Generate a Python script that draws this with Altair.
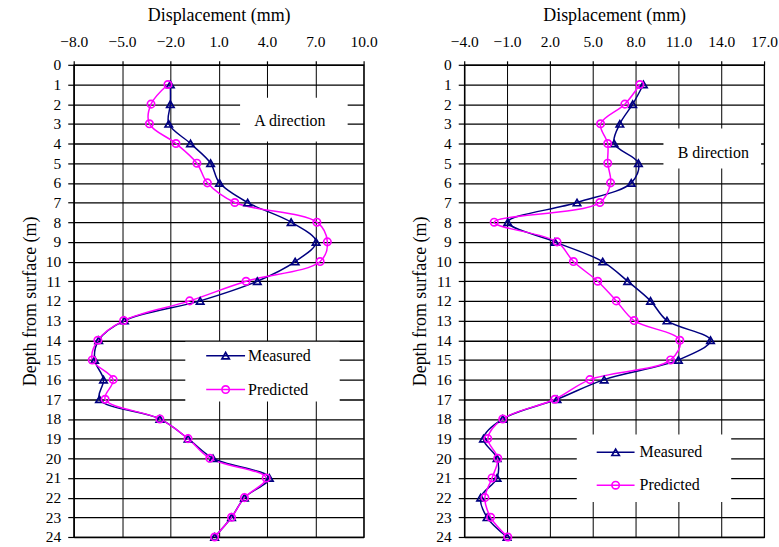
import altair as alt
import pandas as pd

# ---- data ----
depth = list(range(1, 25))
a_measured = [-2.0, -2.0, -2.1, -0.75, 0.5, 1.05, 2.8, 5.5, 7.05, 5.75, 3.4, -0.15,
              -4.85, -6.45, -6.7, -6.15, -6.4, -2.65, -0.9, 0.65, 4.15, 2.6, 1.8, 0.75]
a_predicted = [-2.15, -3.2, -3.3, -1.65, -0.35, 0.3, 2.0, 7.1, 7.75, 7.3, 2.7, -0.8,
               -4.9, -6.5, -6.85, -5.55, -6.05, -2.65, -0.9, 0.45, 3.95, 2.6, 1.8, 0.75]
b_measured = [8.55, 7.8, 6.9, 6.5, 8.2, 7.7, 3.9, -0.95, 2.35, 5.7, 7.45, 9.05,
              10.2, 13.25, 11.0, 5.8, 2.5, -1.3, -2.65, -1.7, -1.7, -2.85, -2.4, -1.0]
b_predicted = [8.3, 7.25, 5.55, 6.05, 6.05, 6.25, 5.5, -1.9, 2.5, 3.65, 5.35, 6.65,
               7.9, 11.1, 10.45, 4.8, 2.35, -1.3, -2.35, -1.65, -2.05, -2.55, -2.15, -0.95]
series_names = ["Measured", "Predicted"]
series_colors = ["#000080", "#FF00FF"]
series_shapes = ["triangle-up", "circle"]
a_ticks = [-8.0, -5.0, -2.0, 1.0, 4.0, 7.0, 10.0]
b_ticks = [-4.0, -1.0, 2.0, 5.0, 8.0, 11.0, 14.0, 17.0]
depth_ticks = list(range(0, 25))

FONT = "Times New Roman, Liberation Serif, DejaVu Serif, serif"
one = pd.DataFrame({"k": [0]})


def panel(meas, pred, ticks, label, W, H, box, legend):
    df = pd.DataFrame({
        "depth": depth * 2,
        "disp": meas + pred,
        "series": ["Measured"] * len(depth) + ["Predicted"] * len(depth),
    })
    xs = alt.Scale(domain=[ticks[0], ticks[-1]], nice=False, zero=False)
    ys = alt.Scale(domain=[0, 24], reverse=True, nice=False, zero=False)
    xaxis = alt.Axis(
        orient="top", values=ticks, format=".1f", title="Displacement (mm)",
        grid=True, gridColor="black", gridWidth=1, gridOpacity=1,
        labelFlush=False, labelOverlap=False,
        tickSize=4, labelPadding=11, titlePadding=10)
    yaxis = alt.Axis(
        values=depth_ticks, format="d", title="Depth from surface (m)",
        grid=True, gridColor="black", gridWidth=1.3, gridOpacity=1,
        labelFlush=False, labelOverlap=False,
        tickSize=6, labelPadding=7, titlePadding=6)
    xenc = alt.X("disp:Q", scale=xs, axis=xaxis)
    yenc = alt.Y("depth:Q", scale=ys, axis=yaxis)
    color = alt.Color("series:N", scale=alt.Scale(domain=series_names, range=series_colors), legend=None)
    shape = alt.Shape("series:N", scale=alt.Scale(domain=series_names, range=series_shapes), legend=None)

    lines = alt.Chart(df).mark_line(strokeWidth=1.5, interpolate="catmull-rom").encode(
        x=xenc, y=yenc, color=color, order="depth:Q", detail="series:N")
    pts = alt.Chart(df).mark_point(filled=False, strokeWidth=1.7, size=55, opacity=1).encode(
        x=xenc, y=yenc, color=color, shape=shape)

    # label box
    bx0, bx1, by0, by1, tx, ty = box
    lbox = alt.Chart(one).mark_rect(color="white").encode(
        x=alt.value(bx0), x2=alt.value(bx1), y=alt.value(by0), y2=alt.value(by1))
    ltext = alt.Chart(one).mark_text(font=FONT, fontSize=16, color="black", align="center", baseline="middle").encode(
        x=alt.value(tx), y=alt.value(ty), text=alt.value(label))

    # legend box
    gx0, gx1, gy0, gy1, lx0, lx1, ly1, ly2, txl = legend
    layers = [lines, pts, lbox, ltext,
              alt.Chart(one).mark_rect(color="white").encode(
                  x=alt.value(gx0), x2=alt.value(gx1), y=alt.value(gy0), y2=alt.value(gy1))]
    for name, col, shp, yy in zip(series_names, series_colors, series_shapes, [ly1, ly2]):
        layers.append(alt.Chart(one).mark_rule(color=col, strokeWidth=1.5).encode(
            x=alt.value(lx0), x2=alt.value(lx1), y=alt.value(yy)))
        layers.append(alt.Chart(one).mark_point(shape=shp, color=col, filled=False, strokeWidth=1.7, size=55, opacity=1).encode(
            x=alt.value((lx0 + lx1) / 2), y=alt.value(yy)))
        layers.append(alt.Chart(one).mark_text(font=FONT, fontSize=16, color="black", align="left", baseline="middle").encode(
            x=alt.value(txl), y=alt.value(yy), text=alt.value(name)))
    return alt.layer(*layers).properties(width=W, height=H)


left = panel(a_measured, a_predicted, a_ticks, "A direction", 291, 474,
             (167, 275, 33, 77, 217, 56),
             (112, 267, 278, 338, 133, 172, 292, 326, 175))
right = panel(b_measured, b_predicted, b_ticks, "B direction", 301, 474,
              (200, 298, 64, 104, 250, 89),
              (113, 268, 371, 439, 133, 171, 389, 422, 176))

chart = alt.hconcat(left, right, spacing=101, bounds="flush").properties(
    padding={"left": 20, "top": 5, "right": 0, "bottom": 0}
).configure_view(stroke="black", strokeWidth=1.2).configure_axis(
    labelFont=FONT, titleFont=FONT, labelFontSize=15.5, titleFontSize=18,
    titleFontWeight="normal", labelColor="black", titleColor="black",
    domainColor="black", tickColor="black", domainWidth=1.2, tickWidth=1.2
)

chart.save("out.html", embed_options={"renderer": "svg", "actions": False})
